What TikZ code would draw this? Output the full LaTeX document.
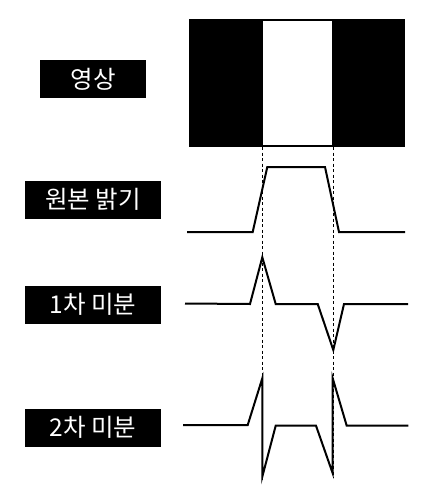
\documentclass[tikz,border=0pt]{standalone}
\usepackage{fontspec}
\newfontfamily\krfont{Noto Sans CJK KR}
\begin{document}
\begin{tikzpicture}[x=1pt,y=-1pt,
  lbl/.style={fill=black,text=white,font=\krfont\fontsize{24.5}{26}\selectfont,inner sep=0pt,minimum height=38pt,anchor=center},
  sig/.style={line width=2pt,line join=miter,miter limit=10},
  guide/.style={line width=0.8pt,dash pattern=on 3pt off 2.5pt}]
\useasboundingbox (0,0) rectangle (431,495);
% image
\fill[black] (189,19) rectangle (405,147);
\fill[white] (263,21) rectangle (332,145);
% labels
\node[lbl,minimum width=106pt] (img) at (93,79) {영상};
\node[lbl,minimum width=136pt] (orig) at (93,199.5) {원본 밝기};
\node[lbl,minimum width=136pt] (d1) at (93,304.5) {1차 미분};
\node[lbl,minimum width=136pt] (d2) at (93,427.5) {2차 미분};
% guide lines
\coordinate (g1t) at (262.5,147);
\coordinate (g1b) at (262.5,481);
\coordinate (g2t) at (333,147);
\coordinate (g2b) at (333,478);
\draw[guide] (g1t) -- (g1b);
\draw[guide] (g2t) -- (g2b);
% original brightness
\draw[sig] (187,232) -- (252.7,232) -- (267.3,167) -- (325,167) -- (339,232) -- (405,232);
% first derivative
\draw[sig] (185,303.5) -- (250,304) -- (262.3,257.3) -- (275.7,304) -- (317.7,304) -- (333.3,350) -- (344,304) -- (408,304);
% second derivative
\draw[sig] (183,425) -- (247.7,425) -- (262.3,378.3) -- (262.3,476.7) -- (275.7,425.7) -- (316,425.7) -- (332.7,473.3) -- (332.7,378.3) -- (346.7,425.7) -- (408.3,425.7);
\end{tikzpicture}
\end{document}
